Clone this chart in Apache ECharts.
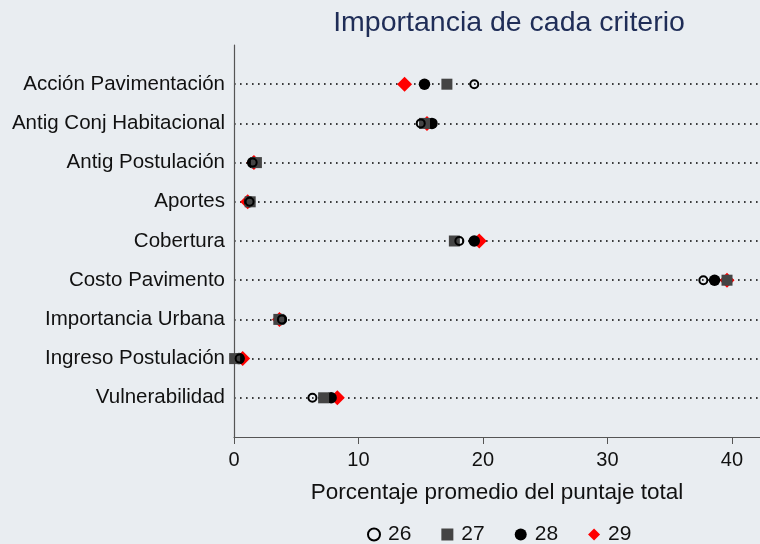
<!DOCTYPE html>
<html>
<head>
<meta charset="utf-8">
<script src="https://cdn.jsdelivr.net/npm/echarts@6/dist/echarts.min.js"></script>
<style>
  html, body { margin: 0; padding: 0; background: #e9edf1; }
  #chart { width: 760px; height: 544px; }
</style>
</head>
<body>
<div id="chart"></div>
<script>
// criterios, de arriba hacia abajo
const categories = [
  'Acción Pavimentación',
  'Antig Conj Habitacional',
  'Antig Postulación',
  'Aportes',
  'Cobertura',
  'Costo Pavimento',
  'Importancia Urbana',
  'Ingreso Postulación',
  'Vulnerabilidad',
];
const v26 = [19.3, 15.0, 1.5, 1.25, 18.1, 37.7, 3.85, 0.45, 6.3];
const v27 = [17.1, 15.3, 1.8, 1.3, 17.7, 39.6, 3.6, 0.05, 7.2];
const v28 = [15.3, 15.9, 1.5, 1.25, 19.3, 38.6, 3.8, 0.4, 7.8];
const v29 = [13.7, 15.5, 1.6, 1.1, 19.7, 39.6, 3.65, 0.7, 8.3];
const xTicks = [0, 10, 20, 30, 40];

// eje y: hueco arriba y abajo, categorías de abajo hacia arriba
const yData = [''].concat(categories.slice().reverse(), [' ']);

const pts = (vals) => vals.map((v, i) => [v, categories[i]]);
const font = 'Liberation Sans, Arial, sans-serif';

const chart = echarts.init(document.getElementById('chart'));
chart.setOption({
  backgroundColor: '#e9edf1',
  animation: false,
  title: {
    text: 'Importancia de cada criterio',
    left: 504,
    top: 4,
    textAlign: 'center',
    textStyle: { color: '#1f2d57', fontFamily: font, fontSize: 28.5, fontWeight: 'normal' },
  },
  grid: { left: 234, right: 0, top: 45, bottom: 107 },
  legend: {
    left: 362,
    top: 519,
    itemWidth: 12,
    itemHeight: 12,
    itemGap: 30,
    data: ['26', '27', { name: '28' }, { name: '29', icon: 'path://M0,-8L8,0L0,8L-8,0Z' }],
    textStyle: { color: '#111', fontFamily: font, fontSize: 21, padding: [0, 0, 0, 3] },
  },
  xAxis: {
    type: 'value',
    min: 0,
    max: 42.25,
    interval: 10,
    name: 'Porcentaje promedio del puntaje total',
    nameLocation: 'middle',
    nameGap: 44,
    nameTextStyle: { color: '#111', fontFamily: font, fontSize: 22.5 },
    axisLine: { show: true, lineStyle: { color: '#555', width: 1.2 } },
    axisTick: { show: true, length: 7, lineStyle: { color: '#555' } },
    axisLabel: {
      color: '#111', fontFamily: font, fontSize: 20, margin: 13,
      showMaxLabel: false,
      formatter: (v) => (xTicks.includes(v) ? String(v) : ''),
    },
    splitLine: { show: false },
  },
  yAxis: {
    type: 'category',
    data: yData,
    boundaryGap: false,
    axisLine: { show: true, lineStyle: { color: '#555', width: 1.2 } },
    axisTick: { show: false },
    axisLabel: { color: '#111', fontFamily: font, fontSize: 20.5, margin: 9 },
    splitLine: {
      show: true,
      interval: (i) => i > 0 && i < yData.length - 1,
      lineStyle: { color: '#000', width: 1.6, type: [1.6, 4.4] },
    },
  },
  series: [
    {
      name: '29', type: 'scatter', symbol: 'diamond', symbolSize: 15,
      itemStyle: { color: '#ff0000', opacity: 1 },
      data: pts(v29),
    },
    {
      name: '28', type: 'scatter', symbol: 'circle', symbolSize: 11.5,
      itemStyle: { color: '#000', opacity: 1 },
      data: pts(v28),
    },
    {
      name: '27', type: 'scatter', symbol: 'rect', symbolSize: 11,
      itemStyle: { color: '#444', opacity: 1 },
      data: pts(v27),
    },
    {
      name: '26', type: 'scatter', symbol: 'circle', symbolSize: 8,
      itemStyle: { color: 'rgba(0,0,0,0)', borderColor: '#000', borderWidth: 2, opacity: 1 },
      data: pts(v26),
    },
  ],
});
</script>
</body>
</html>
